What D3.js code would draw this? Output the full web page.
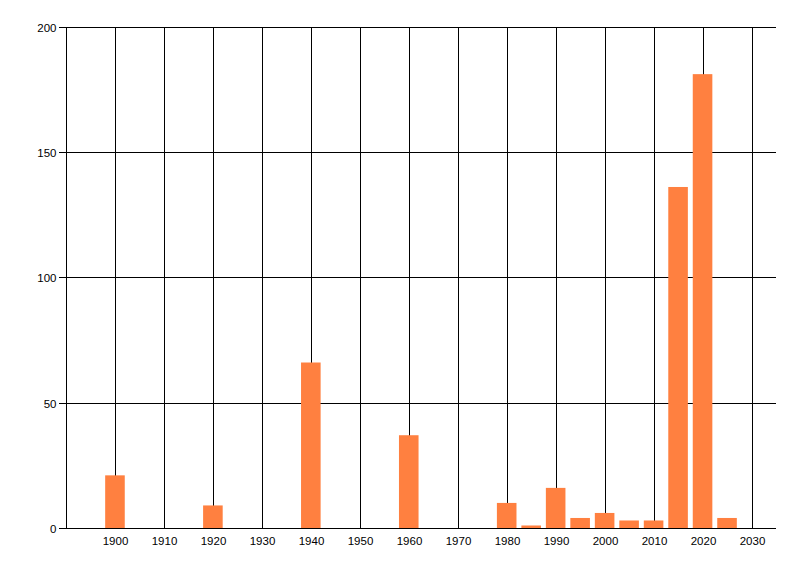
<!DOCTYPE html>
<html>
<head>
<meta charset="utf-8">
<script src="https://cdn.jsdelivr.net/npm/d3@7"></script>
<style>
  html, body { margin: 0; padding: 0; background: #fff; }
  svg { display: block; }
  line, path { shape-rendering: crispEdges; }
  text { font-family: "Liberation Sans", Arial, sans-serif; font-size: 11.5px; fill: #000; }
</style>
</head>
<body>
<svg id="chart" width="800" height="576"></svg>
<script>
const years = [1900, 1920, 1940, 1960, 1980, 1985, 1990, 1995, 2000, 2005, 2010, 2015, 2020, 2025];
const counts = [21, 9, 66, 37, 10, 1, 16, 4, 6, 3, 3, 136, 181, 4];
const xTicks = [1900, 1910, 1920, 1930, 1940, 1950, 1960, 1970, 1980, 1990, 2000, 2010, 2020, 2030];
const yTicks = [0, 50, 100, 150, 200];

const svg = d3.select("#chart");
const mLeft = 66, mRight = 776, mTop = 26.5, mBottom = 528;

const x = d3.scaleLinear().domain([1890, 2035]).range([mLeft, mRight]);
const y = d3.scaleLinear().domain([0, 200]).range([mBottom, mTop]);
const barW = x(1904) - x(1900);

// vertical gridlines
svg.append("g").selectAll("line").data(xTicks).join("line")
  .attr("x1", d => Math.round(x(d)) + 0.5).attr("x2", d => Math.round(x(d)) + 0.5)
  .attr("y1", Math.round(y(200)) + 0.5).attr("y2", mBottom)
  .attr("stroke", "#000").attr("stroke-width", 1);

// horizontal gridlines
svg.append("g").selectAll("line").data(yTicks).join("line")
  .attr("x1", mLeft).attr("x2", mRight)
  .attr("y1", d => Math.round(y(d)) + 0.5).attr("y2", d => Math.round(y(d)) + 0.5)
  .attr("stroke", "#000").attr("stroke-width", 1);

// bars
svg.append("g").selectAll("rect").data(years).join("rect")
  .attr("x", (d) => x(d) - barW / 2)
  .attr("width", barW)
  .attr("y", (d, i) => y(counts[i]))
  .attr("height", (d, i) => y(0) - y(counts[i]))
  .attr("fill", "#FF8040");

// y axis
const yAxis = d3.axisLeft(y).tickValues(yTicks).tickSize(8).tickPadding(2);
const gy = svg.append("g").attr("transform", `translate(${mLeft + 0.5},0)`).call(yAxis);
gy.select(".domain").attr("d", `M0,${Math.round(y(200))}V${mBottom + 0.5}`).attr("stroke", "#000");
gy.selectAll(".tick").attr("transform", d => `translate(0,${Math.round(y(d)) + 0.5})`);
gy.selectAll(".tick line").attr("stroke", "#000");
gy.selectAll("text").attr("font-family", null).attr("font-size", null).attr("dy", "0.36em");

// x axis
const xAxis = d3.axisBottom(x).tickValues(xTicks).tickFormat(d3.format("d")).tickSize(0).tickPadding(8);
const gx = svg.append("g").attr("transform", `translate(0,${mBottom + 0.5})`).call(xAxis);
gx.select(".domain").attr("d", `M${mLeft},0H${mRight}`).attr("stroke", "#000");
gx.selectAll(".tick").attr("transform", d => `translate(${Math.round(x(d)) + 0.5},0)`);
gx.selectAll("text").attr("font-family", null).attr("font-size", null);
</script>
</body>
</html>
